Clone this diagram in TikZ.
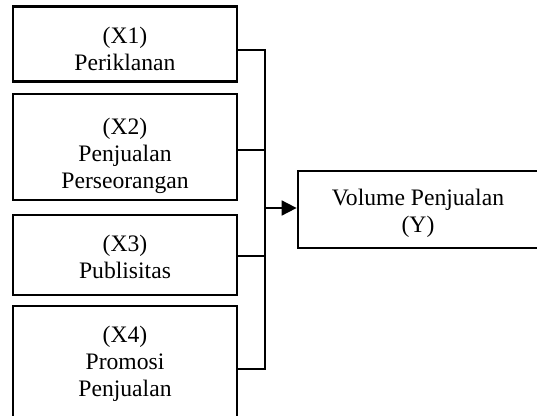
\documentclass[tikz,border=0pt]{standalone}
\usepackage{fontspec}
\setmainfont{Liberation Serif}
\usetikzlibrary{arrows.meta}

\begin{document}
\begin{tikzpicture}[x=0.508pt,y=-0.508pt,
  kotak/.style={draw,line width=1.4pt,inner sep=0pt,minimum width=224*0.508pt},
  teks/.style={align=center,inner sep=0pt,font=\fontsize{12pt}{13.8pt}\selectfont},
  garis/.style={line width=0.9pt}]
\useasboundingbox (0,0) rectangle (537,415);

\node[kotak,minimum height=75*0.508pt] (X1) at (125,44) {};
\node[kotak,minimum height=106*0.508pt] (X2) at (125,147) {};
\node[kotak,minimum height=80*0.508pt] (X3) at (125,255) {};
\node[kotak,minimum height=112*0.508pt] (X4) at (125,362) {};
\node[kotak,minimum width=240*0.508pt,minimum height=77*0.508pt] (Y) at (418,209.5) {};

\node[teks] (tX1) at (125,49) {(X1)\\Periklanan};
\node[teks] (tX2) at (125,156) {(X2)\\Penjualan\\Perseorangan};
\node[teks] (tX3) at (125,257) {(X3)\\Publisitas};
\node[teks] (tX4) at (125,364) {(X4)\\Promosi\\Penjualan};
\node[teks] (tY) at (418,213) {Volume Penjualan\\(Y)};

\coordinate (bus) at (265,0);% garis tegak penghubung

\draw[garis] ([yshift=-6*0.508pt]X1.east) -- ([yshift=-6*0.508pt]X1.east -| bus)
  -- ([yshift=-7*0.508pt]X4.east -| bus) -- ([yshift=-7*0.508pt]X4.east);
\draw[garis] ([yshift=-3*0.508pt]X2.east) -- ([yshift=-3*0.508pt]X2.east -| bus);
\draw[garis] ([yshift=-1*0.508pt]X3.east) -- ([yshift=-1*0.508pt]X3.east -| bus);

\draw[garis,-{Triangle[length=7.6pt,width=7.6pt]}] ([yshift=1.5*0.508pt]Y.west -| bus) -- ([yshift=1.5*0.508pt]Y.west);

\end{tikzpicture}
\end{document}
